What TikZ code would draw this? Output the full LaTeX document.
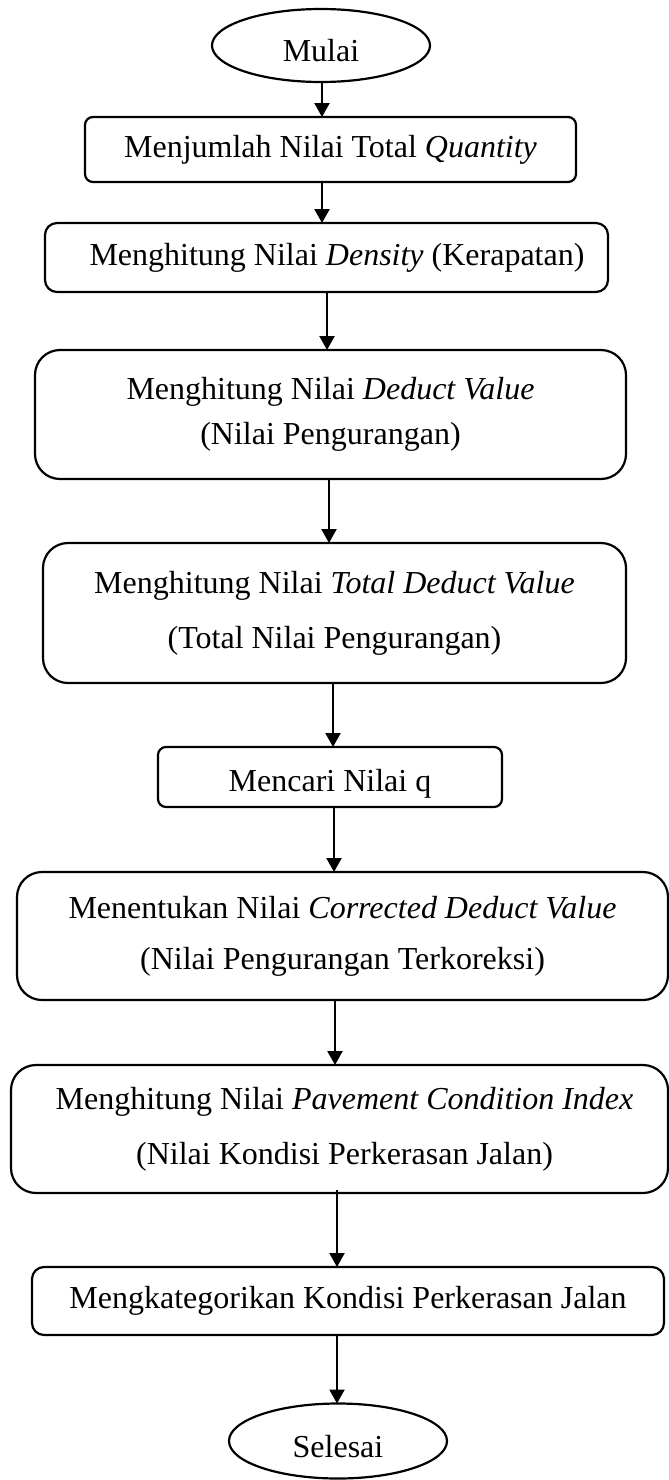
\documentclass[tikz,border=0pt]{standalone}
\usepackage{fontspec}
\setmainfont{Liberation Serif}
\usetikzlibrary{arrows.meta,shapes.geometric}
\begin{document}
\begin{tikzpicture}[x=1pt,y=-1pt,
  every node/.style={inner sep=0pt,outer sep=0pt},
  procbox/.style={draw,line width=2.2pt,rounded corners=#1,align=center,font=\fontsize{32}{45}\selectfont},
  procbox/.default=10pt,
  term/.style={draw,ellipse,line width=2.2pt,minimum width=218pt,font=\fontsize{32}{38}\selectfont},
  arr/.style={line width=2.2pt,-{Triangle[width=15pt,length=14pt]}}]
\useasboundingbox (0,0) rectangle (669,1480);
\fill[white] (0,0) rectangle (669,1480);

\node[term,minimum height=73pt,text height=33pt] (mulai) at (321,45.5) {Mulai};
\node[procbox=8pt,minimum width=491pt,minimum height=65pt] (b1) at (330.5,149.5)
  {Menjumlah Nilai Total \textit{Quantity}};
\node[procbox=12pt,minimum width=563pt,minimum height=69pt] (b2) at (326.5,257.5)
  {\hspace*{21pt}Menghitung Nilai \textit{Density} (Kerapatan)};
\node[procbox=25pt,minimum width=591pt,minimum height=129pt,font=\fontsize{32}{45}\selectfont] (b3) at (330.5,414.5)
  {Menghitung Nilai \textit{Deduct Value}\\(Nilai Pengurangan)};
\node[procbox=25pt,minimum width=583pt,minimum height=140pt,font=\fontsize{32}{55}\selectfont] (b4) at (334.5,613)
  {Menghitung Nilai \textit{Total Deduct Value}\\(Total Nilai Pengurangan)};
\node[procbox=8pt,minimum width=344pt,minimum height=60pt,text height=36pt] (b5) at (330,777)
  {Mencari Nilai q};
\node[procbox=25pt,minimum width=651pt,minimum height=128pt,font=\fontsize{32}{51}\selectfont] (b6) at (342.5,936)
  {Menentukan Nilai \textit{Corrected Deduct Value}\\(Nilai Pengurangan Terkoreksi)};
\node[procbox=25pt,minimum width=657pt,minimum height=128pt,font=\fontsize{32}{55}\selectfont] (b7) at (339.5,1129)
  {\hspace*{10pt}Menghitung Nilai \textit{Pavement Condition Index}\\\hspace*{10pt}(Nilai Kondisi Perkerasan Jalan)};
\node[procbox=12pt,minimum width=632pt,minimum height=68pt] (b8) at (348,1301)
  {Mengkategorikan Kondisi Perkerasan Jalan};
\node[term,minimum height=75pt,text height=34pt] (selesai) at (338,1441) {Selesai};

\draw[arr] ([xshift=1pt]mulai.south) -- ([xshift=-8.5pt]b1.north);
\draw[arr] ([xshift=-8.5pt]b1.south) -- ([xshift=-4.5pt]b2.north);
\draw[arr] ([xshift=0.5pt]b2.south) -- ([xshift=-3.5pt]b3.north);
\draw[arr] ([xshift=-1.5pt]b3.south) -- ([xshift=-5.5pt]b4.north);
\draw[arr] ([xshift=-1.5pt]b4.south) -- ([xshift=3pt]b5.north);
\draw[arr] ([xshift=4pt]b5.south) -- ([xshift=-8.5pt]b6.north);
\draw[arr] ([xshift=-7.5pt]b6.south) -- ([xshift=-4.5pt]b7.north);
\draw[arr] ([xshift=-2.5pt,yshift=3pt]b7.south) -- ([xshift=-11pt]b8.north);
\draw[arr] ([xshift=-11pt]b8.south) -- ([xshift=-1pt]selesai.north);
\end{tikzpicture}
\end{document}
